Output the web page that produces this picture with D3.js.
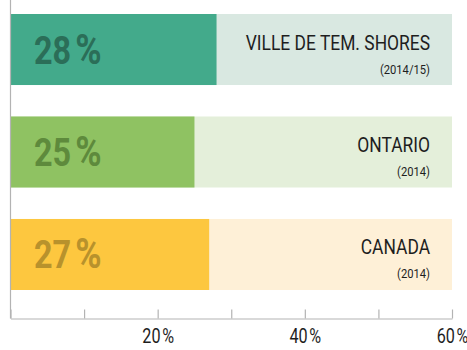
<!DOCTYPE html>
<html>
<head>
<meta charset="utf-8">
<script src="https://cdn.jsdelivr.net/npm/d3@7"></script>
<style>
  html, body { margin: 0; padding: 0; background: #fff; }
  svg { display: block; font-family: Roboto, "Noto Sans", sans-serif; }
</style>
</head>
<body>
<svg id="chart" width="467" height="350"></svg>
<script>
// Share of the population, by area
const regions = ["VILLE DE TEM. SHORES", "ONTARIO", "CANADA"];
const years = ["(2014/15)", "(2014)", "(2014)"];
const shares = [28, 25, 27];
const tickValues = [0, 10, 20, 30, 40, 50, 60];
const tickLabels = ["", "", "20", "", "40", "", "60"];

const barColors = ["#43aa8b", "#8fc262", "#fdc73f"];
const trackColors = ["#d9e8e1", "#e4efda", "#fef0d7"];
const valueColors = ["#2b6e58", "#5e8a3c", "#b8922c"];

const margin = { left: 10.5, top: 14 };
const axisY = 318.5;
const squeeze = 0.83; // narrow the glyphs to a condensed look

const svg = d3.select("#chart");

const x = d3.scaleLinear().domain([0, 60]).range([margin.left, 452]);
const y = d3.scaleBand().domain(regions).range([margin.top, 290]).paddingInner(0.307).paddingOuter(0);

const rows = regions.map((r, i) => ({ region: r, year: years[i], value: shares[i], i }));

// full-width track behind each bar
svg.append("g").selectAll("rect").data(rows).join("rect")
  .attr("x", x(0)).attr("y", d => y(d.region))
  .attr("width", x(60) - x(0)).attr("height", y.bandwidth())
  .attr("fill", d => trackColors[d.i]);

// value bars
svg.append("g").selectAll("rect").data(rows).join("rect")
  .attr("x", x(0)).attr("y", d => y(d.region))
  .attr("width", d => x(d.value) - x(0)).attr("height", y.bandwidth())
  .attr("fill", d => barColors[d.i]);

// value labels inside the bars: number, then a tightly spaced percent sign
const valueText = svg.append("g").selectAll("text").data(rows).join("text")
  .attr("transform", d => `translate(34,${y(d.region) + y.bandwidth() / 2 + 14}) scale(${squeeze},1)`)
  .attr("font-size", 39).attr("font-weight", 700)
  .attr("fill", d => valueColors[d.i]);
valueText.append("tspan").text(d => d.value);
valueText.append("tspan").attr("dx", 5).attr("font-size", 43).text("%");

// region names, right-aligned
svg.append("g").selectAll("text").data(rows).join("text")
  .attr("transform", d => `translate(430,${y(d.region) + y.bandwidth() / 2}) scale(${squeeze},1)`)
  .attr("text-anchor", "end").attr("font-size", 21).attr("fill", "#1e1e1e")
  .text(d => d.region);

// reference years
svg.append("g").selectAll("text").data(rows).join("text")
  .attr("transform", d => `translate(430,${y(d.region) + y.bandwidth() / 2 + 24}) scale(${squeeze},1)`)
  .attr("text-anchor", "end").attr("font-size", 13.5).attr("fill", "#1e1e1e")
  .text(d => d.year);

// vertical baseline
svg.append("line")
  .attr("x1", x(0)).attr("x2", x(0)).attr("y1", 0).attr("y2", axisY)
  .attr("stroke", "#b3b3b3").attr("stroke-width", 1.2);

// bottom axis with upward ticks
const axis = d3.axisBottom(x).tickValues(tickValues).tickSize(-9).tickSizeOuter(0)
  .tickFormat((d, i) => tickLabels[i]);
const gAxis = svg.append("g").attr("transform", `translate(0,${axisY})`).call(axis);
gAxis.select(".domain").attr("stroke", "#b3b3b3").attr("stroke-width", 1.2);
gAxis.selectAll(".tick line").attr("stroke", "#b3b3b3").attr("stroke-width", 1.2);
gAxis.selectAll(".tick text")
  .attr("font-size", 19.5).attr("fill", "#1e1e1e")
  .attr("font-family", "Roboto, sans-serif")
  .attr("y", 25).attr("dy", 0)
  .attr("transform", `scale(${squeeze},1)`)
  .each(function (d, i) {
    if (!tickLabels[i]) return;
    const t = d3.select(this).text(null);
    t.append("tspan").text(tickLabels[i]);
    t.append("tspan").attr("dx", 2).text("%");
  });
</script>
</body>
</html>
